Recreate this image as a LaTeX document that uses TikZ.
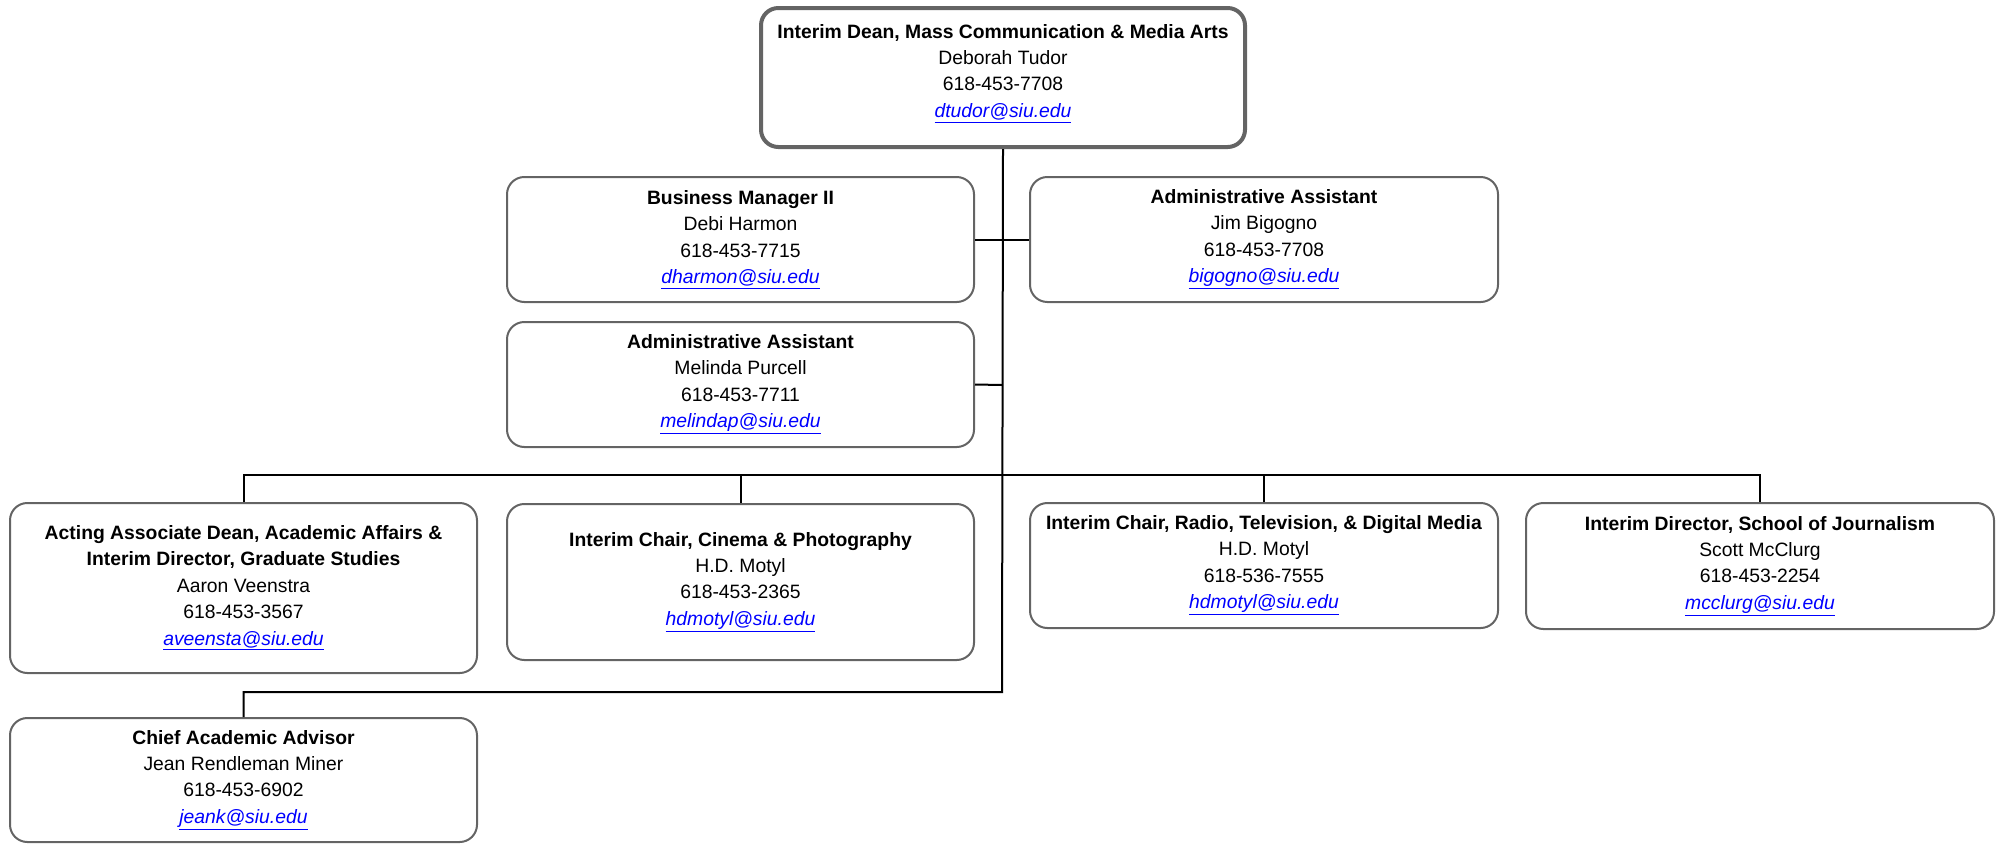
\documentclass[tikz,border=0pt]{standalone}
\usepackage{fontspec}
\setmainfont{Liberation Sans}
\definecolor{linkblue}{RGB}{0,0,255}
\definecolor{boxgray}{RGB}{100,100,100}
\newcommand\mailto[1]{\textcolor{linkblue}{\itshape\underline{#1}}}
\tikzset{
  box/.style={draw=boxgray, line width=1.5pt, rounded corners=13pt, fill=white,
    align=center, inner sep=0pt, font=\fontsize{14.5}{19.8}\selectfont},
  topbox/.style={box, line width=3pt},
  conn/.style={draw=black, line width=1.5pt},
}
\begin{document}
\begin{tikzpicture}[x=0.75pt,y=-0.75pt]
\useasboundingbox (0,0) rectangle (1999,843);
\node[topbox, minimum width=363pt, minimum height=104.25pt, text depth=0.8ex+6pt] (dean) at (1003,77.5)
  {\textbf{Interim Dean, Mass Communication \& Media Arts}\\Deborah Tudor\\618-453-7708\\\mailto{dtudor@siu.edu}};
\node[box, minimum width=350.25pt, minimum height=93.75pt] (bm) at (740.5,239.5)
  {\textbf{Business Manager II}\\Debi Harmon\\618-453-7715\\\mailto{dharmon@siu.edu}};
\node[box, minimum width=351pt, minimum height=93.75pt] (jim) at (1264,239.5)
  {\textbf{Administrative Assistant}\\Jim Bigogno\\618-453-7708\\\mailto{bigogno@siu.edu}};
\node[box, minimum width=350.25pt, minimum height=93.75pt] (mel) at (740.5,384.5)
  {\textbf{Administrative Assistant}\\Melinda Purcell\\618-453-7711\\\mailto{melindap@siu.edu}};
\node[box, minimum width=350.25pt, minimum height=127.5pt] (aa) at (243.5,588)
  {\textbf{Acting Associate Dean, Academic Affairs \&}\\\textbf{Interim Director, Graduate Studies}\\Aaron Veenstra\\618-453-3567\\\mailto{aveensta@siu.edu}};
\node[box, minimum width=350.25pt, minimum height=117pt] (cin) at (740.5,582)
  {\textbf{Interim Chair, Cinema \& Photography}\\H.D. Motyl\\618-453-2365\\\mailto{hdmotyl@siu.edu}};
\node[box, minimum width=351pt, minimum height=93.75pt] (rad) at (1264,565.5)
  {\textbf{Interim Chair, Radio, Television, \& Digital Media}\\H.D. Motyl\\618-536-7555\\\mailto{hdmotyl@siu.edu}};
\node[box, minimum width=351pt, minimum height=94.5pt] (jour) at (1760,566)
  {\textbf{Interim Director, School of Journalism}\\Scott McClurg\\618-453-2254\\\mailto{mcclurg@siu.edu}};
\node[box, minimum width=350.25pt, minimum height=93pt] (chief) at (243.5,780)
  {\textbf{Chief Academic Advisor}\\Jean Rendleman Miner\\618-453-6902\\\mailto{jeank@siu.edu}};
% junction coordinates
\coordinate (j2) at (1002,385);
\coordinate (jb) at (1002,475);
\coordinate (jc) at (1002,692);
\draw[conn] (dean.south) -- (jc) -| (chief.north);
\draw[conn] (bm.east) -- (jim.west);
\draw[conn] (mel.east) -- (j2);
\draw[conn] (aa.north) |- (jb) -| (jour.north);
\draw[conn] (cin.north) -- (cin.north |- jb);
\draw[conn] (rad.north) -- (rad.north |- jb);
\end{tikzpicture}
\end{document}
